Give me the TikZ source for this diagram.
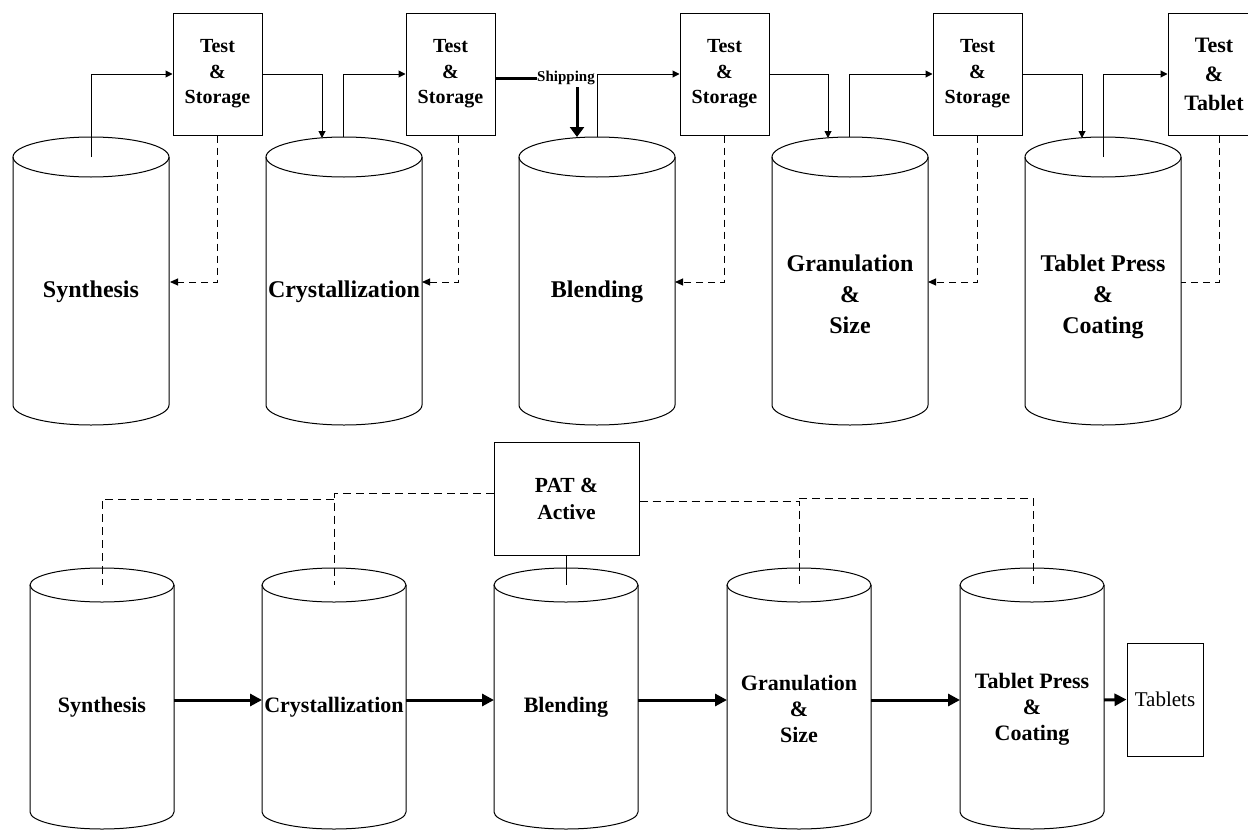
\documentclass[tikz,border=0pt]{standalone}
\usepackage{fontspec}
\setmainfont{Liberation Serif}
\usetikzlibrary{arrows.meta}
\newcommand{\mycyl}[5]{%
  \draw (#1,-#2) ellipse [x radius=#4pt, y radius=#5pt];
  \draw ({#1-#4},-#2) -- ({#1-#4},-#3) arc [start angle=180, end angle=360, x radius=#4pt, y radius=#5pt] -- ({#1+#4},-#2);
}
\begin{document}
\begin{tikzpicture}[x=1pt,y=1pt,line width=1pt,
  tsbox/.style={draw, line width=1pt, minimum width=89pt, minimum height=122pt, inner sep=0pt, align=center, font=\fontsize{20}{25.5}\selectfont\bfseries},
  toplbl/.style={align=center, inner sep=0pt, font=\fontsize{24}{31}\selectfont\bfseries},
  botlbl/.style={align=center, inner sep=0pt, font=\fontsize{22}{26}\selectfont\bfseries},
  flow/.style={-{Triangle[length=7pt,width=7pt]}},
  fb/.style={dash pattern=on 7pt off 5pt, -{Triangle[length=8pt,width=7pt]}},
  fbplain/.style={dash pattern=on 7pt off 5pt},
  pdash/.style={dash pattern=on 8pt off 5pt},
  bigarrow/.style={line width=3pt, -{Triangle[length=12pt,width=12pt]}},
  shiparrow/.style={line width=3pt, -{Triangle[length=10pt,width=14pt]}}
]
\useasboundingbox (0,0) rectangle (1248,-830);
\clip (0,0) rectangle (1248,-830);

% ---------- top row cylinders ----------
\mycyl{91}{157}{405}{78}{20}
\mycyl{344}{157}{405}{78}{20}
\mycyl{597}{157}{405}{78}{20}
\mycyl{850}{157}{405}{78}{20}
\mycyl{1103}{157}{405}{78}{20}

\node[toplbl] (l1) at (91,-292) {Synthesis};
\node[toplbl] (l2) at (344,-292) {Crystallization};
\node[toplbl] (l3) at (597,-292) {Blending};
\node[toplbl] (l4) at (850,-294) {Granulation\\\&\\Size};
\node[toplbl] (l5) at (1103,-297) {Tablet Press\\\&\\Coating};

% ---------- test boxes ----------
\node[tsbox] (b1) at (217.5,-74) {Test\\\&\\Storage};
\node[tsbox] (b2) at (450.5,-74) {Test\\\&\\Storage};
\node[tsbox] (b3) at (724.5,-74) {Test\\\&\\Storage};
\node[tsbox] (b4) at (977.5,-74) {Test\\\&\\Storage};
\node[tsbox, minimum width=92pt, font=\fontsize{22}{29}\selectfont\bfseries] (b5) at (1214,-74) {Test\\\&\\Tablet};

\node[inner sep=0pt, font=\fontsize{15}{15}\selectfont\bfseries] (ship) at (566,-78) {Shipping};

% ---------- coordinates on cylinders ----------
\coordinate (c1up) at (91,-157);
\coordinate (c2in) at (322,-138);
\coordinate (c2up) at (343,-137);
\coordinate (c3in) at (577,-137);
\coordinate (c3up) at (597,-137);
\coordinate (c4in) at (828,-138);
\coordinate (c4up) at (849,-137);
\coordinate (c5in) at (1082,-138);
\coordinate (c5up) at (1103,-157);
\coordinate (f1) at (170,-282);
\coordinate (f2) at (422,-282);
\coordinate (f3) at (675,-282);
\coordinate (f4) at (928,-282);
\coordinate (f5) at (1181,-282);

% ---------- top flow ----------
\draw[flow] (c1up) |- (b1.west);
\draw[flow] (b1.east) -| (c2in);
\draw[flow] (c2up) |- (b2.west);
\draw[line width=3pt] ([yshift=-4pt]b2.east) -- (ship.west);
\draw[shiparrow] ([xshift=11pt,yshift=-2pt]ship.south) -- (c3in);
\draw[flow] (c3up) |- (b3.west);
\draw[flow] (b3.east) -| (c4in);
\draw[flow] (c4up) |- (b4.west);
\draw[flow] (b4.east) -| (c5in);
\draw[flow] (c5up) |- (b5.west);

% ---------- feedback ----------
\draw[fb] (b1.south) |- (f1);
\draw[fb] ([xshift=7.5pt]b2.south) |- (f2);
\draw[fb] (b3.south) |- (f3);
\draw[fb] (b4.south) |- (f4);
\draw[fbplain] ([xshift=5pt]b5.south) |- (f5);

% ---------- bottom row cylinders ----------
\mycyl{102}{585}{812}{72}{17}
\mycyl{334}{585}{812}{72}{17}
\mycyl{566}{585}{812}{72}{17}
\mycyl{799}{585}{812}{72}{17}
\mycyl{1032}{585}{812}{72}{17}

\node[botlbl] (m1) at (102,-707) {Synthesis};
\node[botlbl] (m2) at (334,-707) {Crystallization};
\node[botlbl] (m3) at (566,-707) {Blending};
\node[botlbl] (m4) at (799,-709) {Granulation\\\&\\Size};
\node[botlbl] (m5) at (1032,-709) {Tablet Press\\\&\\Coating};

\node[draw, minimum width=145pt, minimum height=113pt, inner sep=0pt, align=center, font=\fontsize{21.5}{27}\selectfont\bfseries] (pat) at (566.5,-498.5) {PAT \&\\Active};
\node[draw, minimum width=76pt, minimum height=113pt, inner sep=0pt, font=\fontsize{21}{21}\selectfont] (tab) at (1165,-699.5) {Tablets};

\coordinate (e1r) at (174,-700);
\coordinate (e2l) at (262,-700);
\coordinate (e2r) at (406,-700);
\coordinate (e3l) at (494,-700);
\coordinate (e3r) at (638,-700);
\coordinate (e4l) at (727,-700);
\coordinate (e4r) at (871,-700);
\coordinate (e5l) at (960,-700);
\coordinate (e5r) at (1104,-700);

\draw[bigarrow] (e1r) -- (e2l);
\draw[bigarrow] (e2r) -- (e3l);
\draw[bigarrow] (e3r) -- (e4l);
\draw[bigarrow] (e4r) -- (e5l);
\draw[bigarrow] (e5r) -- (tab.west);

\coordinate (t1) at (102,-585);
\coordinate (t2) at (334,-585);
\coordinate (t3) at (566.5,-585);
\coordinate (t4) at (799,-585);
\coordinate (t5) at (1033,-585);
\coordinate (j1) at (334,-499);
\coordinate (j2) at (799,-498);

\draw[pdash] ([yshift=5.5pt]pat.west) -| (t2);
\draw[pdash] (j1) -| (t1);
\draw[pdash] ([yshift=-2.5pt]pat.east) -| (t4);
\draw[pdash] (j2) -| (t5);
\draw (pat.south) -- (t3);
\end{tikzpicture}
\end{document}
